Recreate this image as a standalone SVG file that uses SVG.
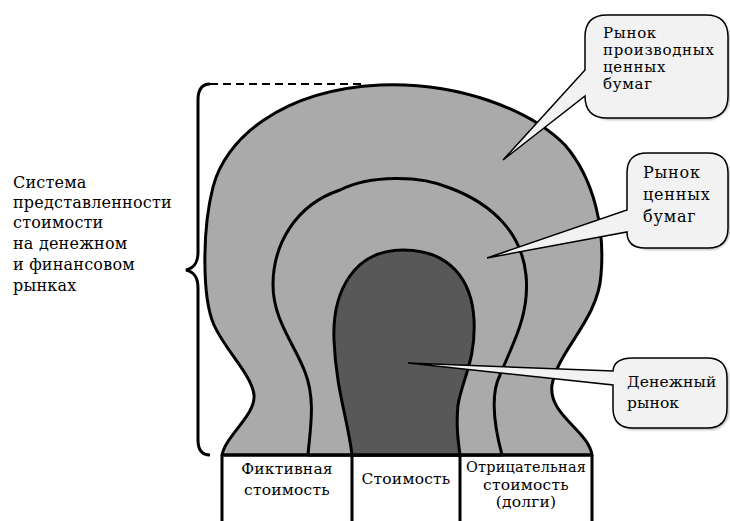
<svg xmlns="http://www.w3.org/2000/svg" width="730" height="521" viewBox="0 0 730 521">
<style>
text{font-family:'DejaVu Serif','Liberation Serif',serif;fill:#000}
.lbl{font-size:16px;letter-spacing:0.2px}
.call{font-size:15px;letter-spacing:0.7px}
.call2{font-size:16px;letter-spacing:0.8px}
.call3{font-size:15.5px;letter-spacing:0.1px}
.cell{font-size:15.5px;letter-spacing:0.2px;text-anchor:middle}
.zone{stroke:#000;stroke-width:3;stroke-linejoin:round}
.light{fill:#aaaaaa}
.dark{fill:#585858}
.bubble{fill:#f2f2f2;stroke:#000;stroke-width:1.5;stroke-linejoin:miter}
.shadow{fill:#8a8a8a;opacity:0.6}
.line{fill:none;stroke:#000;stroke-width:3}
</style>
<defs>
<filter id="blur" x="-10%" y="-10%" width="120%" height="120%"><feGaussianBlur stdDeviation="1.2"/></filter>
</defs>

<g id="outer-zone">
<path class="zone light" d="M222,455 C226,435 256,415 254,395 C252,375 225,350 214,325 C202,298 202,230 213,187 C225,140 280,90 380,85 C460,82 530,110 565,145 C595,180 605,230 601,275 C598,320 558,350 552,385 C548,415 588,430 592,455 Z"/>
</g>
<g id="middle-zone">
<path class="zone light" d="M308,455 C310,430 316,400 305,372 C295,345 273,320 273,285 C273,245 295,205 340,190 C370,175 420,175 450,188 C495,205 522,235 526,275 C530,315 512,345 500,375 C490,395 494,425 502,455 Z"/>
</g>
<g id="core-zone">
<path class="zone dark" d="M352,455 C348,420 336,390 334,340 C332,290 355,250 403,250 C450,250 472,280 474,320 C476,360 462,380 458,405 C456,425 458,440 460,455 Z"/>
</g>

<g id="table">
<path class="line" d="M222,455 H592 M222,455 V521 M352,455 V521 M460,455 V521 M592,455 V521"/>
<text class="cell" x="287" y="474">Фиктивная</text>
<text class="cell" x="287" y="495">стоимость</text>
<text class="cell" x="406" y="484">Стоимость</text>
<text class="cell" x="526" y="472" textLength="120" lengthAdjust="spacingAndGlyphs">Отрицательная</text>
<text class="cell" x="526" y="490">стоимость</text>
<text class="cell" x="526" y="507">(долги)</text>
</g>

<g id="brace">
<path class="line" d="M210,84 C201,84 198,90 198,100 L198,252 C198,263 194,268 186,270 C194,272 198,277 198,288 L198,440 C198,450 202,455 210,455"/>
<path d="M210,84 H366" fill="none" stroke="#000" stroke-width="2" stroke-dasharray="8,5"/>
</g>

<g id="system-label">
<text class="lbl" x="13" y="188">Система</text>
<text class="lbl" x="13" y="208">представленности</text>
<text class="lbl" x="13" y="228">стоимости</text>
<text class="lbl" x="13" y="249">на денежном</text>
<text class="lbl" x="13" y="270">и финансовом</text>
<text class="lbl" x="13" y="291">рынках</text>
</g>

<g id="callout-derivatives">
<rect class="shadow" x="587" y="17" width="143" height="103" rx="22" filter="url(#blur)"/>
<path class="bubble" d="M607,15 H706 Q728,15 728,37 V96 Q728,118 706,118 H607 Q585,118 585,96 L503,160 L585,70 V37 Q585,15 607,15 Z"/>
<text class="call" x="603" y="38">Рынок</text>
<text class="call" x="603" y="55">производных</text>
<text class="call" x="603" y="72">ценных</text>
<text class="call" x="603" y="89">бумаг</text>
</g>

<g id="callout-securities">
<rect class="shadow" x="629" y="155" width="101" height="95" rx="20" filter="url(#blur)"/>
<path class="bubble" d="M647,153 H708 Q728,153 728,173 V228 Q728,248 708,248 H645 Q627,248 627,232 L487,258 L627,210 V173 Q627,153 647,153 Z"/>
<text class="call2" x="643" y="178">Рынок</text>
<text class="call2" x="643" y="200">ценных</text>
<text class="call2" x="643" y="222">бумаг</text>
</g>

<g id="callout-money">
<rect class="shadow" x="615" y="360" width="114" height="70" rx="18" filter="url(#blur)"/>
<path class="bubble" d="M633,358 H707 Q727,358 727,378 V408 Q727,428 707,428 H633 Q613,428 613,408 V385 L408,363 L613,371 Q614,358 633,358 Z"/>
<text class="call3" x="627" y="387">Денежный</text>
<text class="call3" x="627" y="408">рынок</text>
</g>
</svg>
